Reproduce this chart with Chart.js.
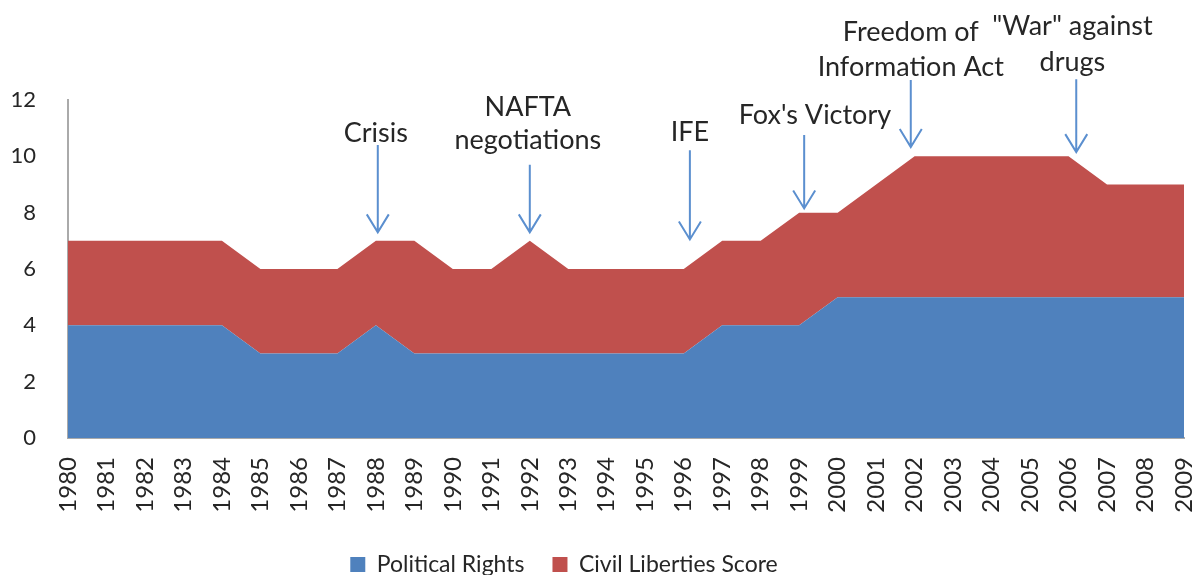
<!DOCTYPE html>
<html>
<head>
<meta charset="utf-8">
<script src="https://cdn.jsdelivr.net/npm/chart.js@4"></script>
<style>
  html, body { margin: 0; padding: 0; background: #fff; }
  #wrap { width: 1196px; height: 575px; }
</style>
</head>
<body>
<div id="wrap"><canvas id="chart" width="1196" height="575"></canvas></div>
<script>
const years = ["1980","1981","1982","1983","1984","1985","1986","1987","1988","1989",
  "1990","1991","1992","1993","1994","1995","1996","1997","1998","1999",
  "2000","2001","2002","2003","2004","2005","2006","2007","2008","2009"];
const politicalRights = [4,4,4,4,4,3,3,3,4,3, 3,3,3,3,3,3,3,4,4,4, 5,5,5,5,5,5,5,5,5,5];
const civilLiberties  = [3,3,3,3,3,3,3,3,3,4, 3,3,4,3,3,3,3,3,3,4, 3,4,5,5,5,5,5,4,4,4];
const yTicks = [0, 2, 4, 6, 8, 10, 12];

// event labels: x as category index, y in data units
const events = [
  { x: 8.05,  tx: 8.0,   lines: ["Crisis"],                        textY: [10.83],        from: 10.4,  to: 7.3 },
  { x: 12.0,  tx: 11.95, lines: ["NAFTA", "negotiations"],         textY: [11.75, 10.58], from: 9.7,   to: 7.3 },
  { x: 16.16, tx: 16.16, lines: ["IFE"],                           textY: [10.86],        from: 10.22, to: 7.05 },
  { x: 19.13, tx: 19.41, lines: ["Fox's Victory"],                 textY: [11.46],        from: 10.76, to: 8.15 },
  { x: 21.9,  tx: 21.9,  lines: ["Freedom of", "Information Act"], textY: [14.41, 13.17], from: 12.71, to: 10.33 },
  { x: 26.2,  tx: 26.1,  lines: ["\"War\" against", "drugs"],      textY: [14.6, 13.35],  from: 12.74, to: 10.15 }
];

const eventPlugin = {
  id: "events",
  afterLayout(chart) {
    // legend sits a bit left of centre in the original
    chart.legend.left -= 28;
    chart.legend.right -= 28;
  },
  afterDatasetsDraw(chart) {
    const { ctx, scales: { x, y } } = chart;
    ctx.save();
    ctx.font = "27px Lato";
    ctx.fillStyle = "#262626";
    ctx.textAlign = "center";
    ctx.textBaseline = "middle";
    ctx.strokeStyle = "#5b8fcf";
    ctx.lineWidth = 2;
    events.forEach(ev => {
      const tx = x.getPixelForValue(ev.tx);
      ev.lines.forEach((t, i) => ctx.fillText(t, tx, y.getPixelForValue(ev.textY[i])));
      const px = x.getPixelForValue(ev.x);
      const y1 = y.getPixelForValue(ev.from);
      const y2 = y.getPixelForValue(ev.to);
      ctx.beginPath();
      ctx.moveTo(px, y1);
      ctx.lineTo(px, y2);
      ctx.moveTo(px - 11, y2 - 18);
      ctx.lineTo(px, y2);
      ctx.lineTo(px + 11, y2 - 18);
      ctx.stroke();
    });
    ctx.restore();
  }
};

Chart.defaults.font.family = "Lato";
Chart.defaults.color = "#262626";

new Chart(document.getElementById("chart"), {
  type: "line",
  data: {
    labels: years,
    datasets: [
      {
        label: "Political Rights",
        data: politicalRights,
        backgroundColor: "#4f81bd",
        borderColor: "#4f81bd",
        borderWidth: 0,
        pointRadius: 0,
        fill: "origin",
        tension: 0
      },
      {
        label: "Civil Liberties Score",
        data: civilLiberties,
        backgroundColor: "#c0504d",
        borderColor: "#c0504d",
        borderWidth: 0,
        pointRadius: 0,
        fill: "-1",
        tension: 0
      }
    ]
  },
  options: {
    responsive: false,
    animation: false,
    layout: { padding: { top: 100, right: 12, left: 0, bottom: -11 } },
    plugins: {
      legend: {
        position: "bottom",
        labels: { boxWidth: 15, boxHeight: 15, font: { size: 23 }, padding: 28 }
      },
      tooltip: { enabled: false }
    },
    scales: {
      x: {
        grid: { display: false },
        border: { color: "#aaa", width: 2 },
        ticks: { minRotation: 90, maxRotation: 90, autoSkip: false, font: { size: 24 }, padding: 11 },
        afterFit: s => { s.height = 87; s.paddingLeft = 0; s.paddingRight = 0; }
      },
      y: {
        stacked: true,
        min: 0,
        max: 12,
        grid: { display: false },
        border: { color: "#aaa", width: 2 },
        afterBuildTicks: s => { s.ticks = yTicks.map(v => ({ value: v })); },
        ticks: { font: { size: 22 }, padding: 24 },
        afterFit: s => { s.width = 68; s.paddingTop = 0; s.paddingBottom = 0; }
      }
    }
  },
  plugins: [eventPlugin]
});
</script>
</body>
</html>
